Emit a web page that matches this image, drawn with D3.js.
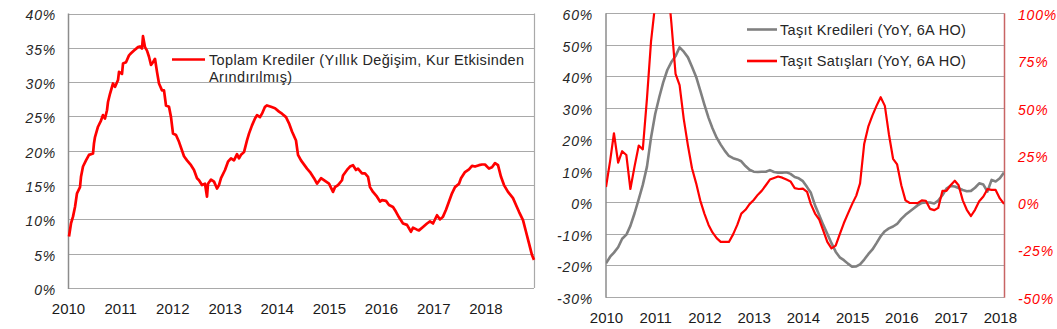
<!DOCTYPE html>
<html>
<head>
<meta charset="utf-8">
<script src="https://cdn.jsdelivr.net/npm/d3@7"></script>
<style>
  html, body { margin: 0; padding: 0; background: #fff; }
  svg { display: block; font-family: "Liberation Sans", Arial, sans-serif; }
  .ylab { font-style: italic; font-size: 14px; letter-spacing: 0.8px; }
  .xlab { font-size: 15px; fill: #1a1a1a; }
  .leg { font-size: 14.5px; letter-spacing: 0.35px; fill: #262626; }
</style>
</head>
<body>
<svg id="chart" width="1057" height="329"></svg>
<script>
// ---- Left panel: total loans, weekly (week index from 2010-01-01, annual % change)
const loanWeeks = [1,3,5,7,9,12,13,15,18,21,25,26,27,30,33,35,37,39,40,42,45,47,50,51,54,55,58,61,63,66,70,72,74,75,77,79,81,83,85,87,89,91,94,96,98,101,103,105,108,111,116,119,123,126,129,131,134,137,139,140,143,146,149,151,153,157,160,163,166,169,171,173,176,179,181,184,187,189,192,194,197,199,203,207,211,214,218,221,224,228,230,233,235,239,242,246,249,253,257,261,265,267,270,274,275,279,282,285,288,290,294,297,300,302,305,309,312,314,318,321,325,328,331,335,339,343,345,349,351,355,359,362,365,369,372,375,378,381,384,387,391,393,397,401,404,407,411,414,417,421,424,427,430,433,436,440,445,448,451,455,458,461,464,466];
const loanGrowth = [7.5,9.4,10.4,11.8,13.8,14.7,16.2,17.7,18.6,19.4,19.6,21.1,22.0,23.5,24.4,25.2,24.7,25.9,27.1,28.3,29.8,29.3,30.3,31.5,31.2,32.7,32.9,33.9,34.2,34.6,35.1,35.2,34.9,36.7,35.1,34.6,33.7,32.5,32.9,33.4,31.5,29.8,28.8,28.8,26.6,26.4,24.9,22.5,22.3,21.3,19.2,18.6,17.9,17.2,16.0,15.7,15.0,15.2,13.3,15.2,15.8,15.5,14.5,15.0,16.0,17.2,18.4,18.9,18.6,19.5,18.9,19.4,19.8,21.5,22.5,23.7,24.7,25.2,24.9,25.4,26.4,26.6,26.4,26.2,25.7,25.4,24.9,24.0,22.8,21.5,19.4,18.6,18.2,17.4,16.9,16.0,15.2,16.0,15.6,15.2,14.0,14.7,15.0,15.7,16.4,17.2,17.7,17.9,17.2,17.4,16.7,16.7,16.2,14.7,14.0,13.3,12.6,12.8,12.7,12.1,11.8,11.1,10.3,9.4,9.2,8.2,8.8,8.5,8.4,8.9,9.4,9.7,9.4,10.6,10.0,10.4,11.4,12.6,13.8,14.7,15.2,16.0,16.9,17.3,17.8,17.7,17.9,18.0,18.0,17.4,17.6,18.2,17.9,16.2,15.0,14.0,13.1,12.1,11.1,9.9,8.2,6.5,4.8,4.1];
const loanLastWeek = 466;
const loanLegend = ["Toplam Krediler (Yıllık Değişim, Kur Etkisinden", "Arındırılmış)"];
const leftTicks = [0, 5, 10, 15, 20, 25, 30, 35, 40];

// ---- Right panel: vehicle loans and vehicle sales, monthly from 2010-01 (YoY %, 6-month MA)
const vehicleLoans = [-19.4,-17.3,-16.0,-14.3,-11.6,-10.3,-7.5,-3.5,1.0,5.5,11.3,20.5,28.0,33.5,38.0,42.0,44.5,46.4,49.2,47.8,46.0,43.0,39.8,35.5,31.0,26.8,23.5,20.5,18.3,16.3,14.7,14.0,13.6,13.0,11.5,10.3,9.7,9.6,9.7,9.7,10.2,9.6,9.4,9.4,9.5,9.0,8.0,7.6,6.7,4.8,3.0,-1.0,-4.0,-7.2,-10.0,-13.0,-15.7,-17.5,-18.4,-19.5,-20.5,-20.4,-19.7,-18.2,-16.5,-15.0,-13.0,-10.8,-9.2,-8.3,-7.7,-6.9,-5.3,-4.0,-3.0,-2.0,-1.0,-0.2,-0.1,-0.1,-0.4,0.5,2.2,4.3,5.2,5.0,4.5,3.9,3.5,3.6,4.6,6.0,5.6,3.4,7.1,6.6,7.6,9.4];
const vehicleSales = [8,22,36.5,21,27,25,7,19,30,28,55,85,105,125,130,118,95,68,62,44,30,18,10,1,-6,-12,-16,-19,-21,-21,-21,-17,-12,-6,-4,-1,1.2,4,6,9,12,12.8,13.6,13,12,11,7.5,7,7.2,5.5,-1,-6,-9,-15,-21,-24.4,-23,-17,-11,-6,-1,3.5,10,31,40,46,51,55.6,51,36,23,20,9,1,-0.3,-0.4,-0.5,1,0.8,-3.5,-4.2,-3,6,6,9,11.4,9,1,-4,-7.3,-4,0.5,3,6.9,6.5,6.5,2,-0.9];
const vehicleNames = ["Taşıt Kredileri (YoY, 6A HO)", "Taşıt Satışları (YoY, 6A HO)"];
const rightLeftTicks = [-30, -20, -10, 0, 10, 20, 30, 40, 50, 60];
const rightRightTicks = [-50, -25, 0, 25, 50, 75, 100];

const years = d3.range(2010, 2019);
const start = new Date(2010, 0, 1);

const svg = d3.select("#chart");
svg.append("rect").attr("width", 1057).attr("height", 329).attr("fill", "#fff");

const gridColor = "#a9a9a9";
const pct = d => d + "%";

// ================= LEFT PANEL =================
{
  const L = {x0: 68, x1: 534, y0: 288, y1: 13.5};
  const x = d3.scaleTime()
    .domain([start, d3.timeDay.offset(start, loanLastWeek * 7)])
    .range([L.x0, L.x1]);
  const y = d3.scaleLinear().domain([0, 40]).range([L.y0, L.y1]);

  const g = svg.append("g");
  // horizontal gridlines
  g.selectAll("line.grid").data(leftTicks).join("line")
    .attr("x1", L.x0).attr("x2", L.x1)
    .attr("y1", d => Math.round(y(d)) + 0.5).attr("y2", d => Math.round(y(d)) + 0.5)
    .attr("stroke", gridColor).attr("stroke-width", 1);
  // frame sides
  g.append("line").attr("x1", L.x0 + 0.5).attr("x2", L.x0 + 0.5).attr("y1", L.y1).attr("y2", L.y0 + 1)
    .attr("stroke", "#8c8c8c").attr("stroke-width", 1.5);
  g.append("line").attr("x1", L.x1 + 0.5).attr("x2", L.x1 + 0.5).attr("y1", L.y1).attr("y2", L.y0)
    .attr("stroke", gridColor).attr("stroke-width", 1.2);

  // y axis labels
  const ya = svg.append("g").attr("transform", `translate(${L.x0 - 12},0)`)
    .call(d3.axisLeft(y).tickValues(leftTicks).tickFormat(pct).tickSize(0).tickPadding(0));
  ya.select(".domain").remove();
  ya.selectAll("text").attr("class", "ylab").attr("fill", "#262626").attr("dy", "0.45em");

  // x axis labels
  const xa = svg.append("g").attr("transform", `translate(0,${L.y0})`)
    .call(d3.axisBottom(x).tickValues(years.map(yr => new Date(yr, 0, 1)))
      .tickFormat(d3.timeFormat("%Y")).tickSize(0).tickPadding(0));
  xa.select(".domain").remove();
  xa.selectAll("text").attr("class", "xlab").attr("dy", "26px").attr("y", 0);

  // series
  const pts = loanWeeks.map((w, i) => ({d: d3.timeDay.offset(start, w * 7), v: loanGrowth[i]}));
  g.append("path").datum(pts)
    .attr("fill", "none").attr("stroke", "#ff0000").attr("stroke-width", 2.7)
    .attr("stroke-linejoin", "round")
    .attr("d", d3.line().x(p => x(p.d)).y(p => y(p.v)));

  // legend
  g.append("line").attr("x1", 172).attr("x2", 205).attr("y1", 59.5).attr("y2", 59.5)
    .attr("stroke", "#ff0000").attr("stroke-width", 2.6);
  g.selectAll("text.leg").data(loanLegend).join("text")
    .attr("class", "leg").attr("x", 209).attr("y", (d, i) => 64.5 + i * 17).text(d => d);
}

// ================= RIGHT PANEL =================
{
  const R = {x0: 606, x1: 1004, y0: 296.7, y1: 13.3};
  const months = vehicleLoans.map((_, i) => d3.timeMonth.offset(start, i));
  const x = d3.scaleTime().domain([start, months[months.length - 1]]).range([R.x0, R.x1]);
  const yL = d3.scaleLinear().domain([-30, 60]).range([R.y0, R.y1]);
  const yR = d3.scaleLinear().domain([-50, 100]).range([R.y0, R.y1]);

  const g = svg.append("g");
  g.selectAll("line.grid").data(rightLeftTicks).join("line")
    .attr("x1", R.x0).attr("x2", R.x1)
    .attr("y1", d => Math.round(yL(d)) + 0.5).attr("y2", d => Math.round(yL(d)) + 0.5)
    .attr("stroke", gridColor).attr("stroke-width", 1);
  g.append("line").attr("x1", R.x0).attr("x2", R.x0).attr("y1", R.y1).attr("y2", R.y0 + 1)
    .attr("stroke", "#8c8c8c").attr("stroke-width", 1.5);
  g.append("line").attr("x1", R.x1 + 0.5).attr("x2", R.x1 + 0.5).attr("y1", R.y1).attr("y2", R.y0 + 1)
    .attr("stroke", "#c86464").attr("stroke-width", 1.5);

  const ya = svg.append("g").attr("transform", `translate(${R.x0 - 13},0)`)
    .call(d3.axisLeft(yL).tickValues(rightLeftTicks).tickFormat(pct).tickSize(0).tickPadding(0));
  ya.select(".domain").remove();
  ya.selectAll("text").attr("class", "ylab").attr("fill", "#262626").attr("dy", "0.45em");

  const yr = svg.append("g").attr("transform", `translate(${R.x1 + 14},0)`)
    .call(d3.axisRight(yR).tickValues(rightRightTicks).tickFormat(pct).tickSize(0).tickPadding(0));
  yr.select(".domain").remove();
  yr.selectAll("text").attr("class", "ylab").attr("fill", "#ff0000").attr("dy", "0.45em");

  const xa = svg.append("g").attr("transform", `translate(0,${R.y0})`)
    .call(d3.axisBottom(x).tickValues(years.map(yy => new Date(yy, 0, 1)))
      .tickFormat(d3.timeFormat("%Y")).tickSize(0).tickPadding(0));
  xa.select(".domain").remove();
  xa.selectAll("text").attr("class", "xlab").attr("dy", "26px").attr("y", 0);

  svg.append("clipPath").attr("id", "rclip").append("rect")
    .attr("x", R.x0).attr("y", R.y1).attr("width", R.x1 - R.x0).attr("height", R.y0 - R.y1);

  g.append("path").datum(vehicleLoans)
    .attr("fill", "none").attr("stroke", "#808080").attr("stroke-width", 2.6)
    .attr("stroke-linejoin", "round").attr("clip-path", "url(#rclip)")
    .attr("d", d3.line().x((v, i) => x(months[i])).y(v => yL(v)));
  g.append("path").datum(vehicleSales)
    .attr("fill", "none").attr("stroke", "#ff0000").attr("stroke-width", 2.2)
    .attr("stroke-linejoin", "round").attr("clip-path", "url(#rclip)")
    .attr("d", d3.line().x((v, i) => x(months[i])).y(v => yR(v)));

  // legend
  const colors = ["#808080", "#ff0000"];
  const lg = g.selectAll("g.legitem").data(vehicleNames).join("g")
    .attr("transform", (d, i) => `translate(0,${29.5 + i * 31.5})`);
  lg.append("line").attr("x1", 747).attr("x2", 777).attr("y1", 0).attr("y2", 0)
    .attr("stroke", (d, i) => colors[i]).attr("stroke-width", 2.6);
  lg.append("text").attr("class", "leg").attr("x", 780).attr("y", 5).text(d => d);
}
</script>
</body>
</html>
